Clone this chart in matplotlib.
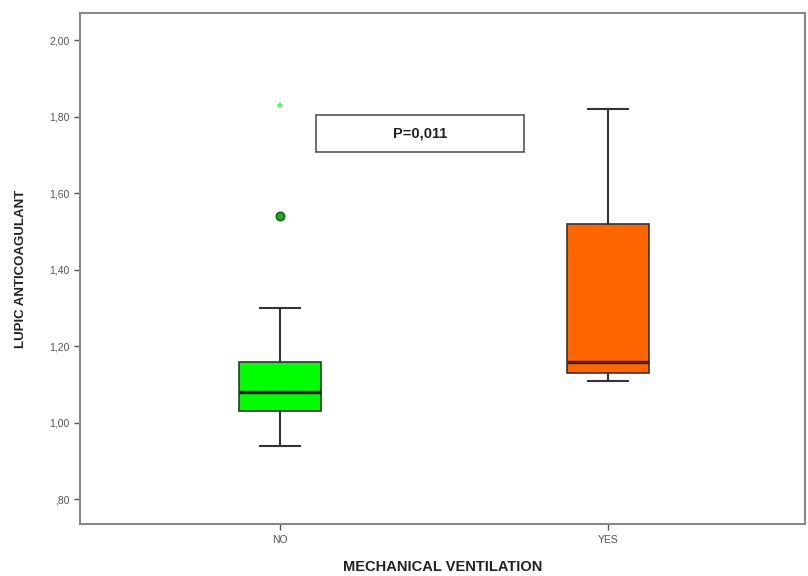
import matplotlib
matplotlib.use("Agg")
from matplotlib import pyplot as plt
from matplotlib.patches import Rectangle

plt.rcParams["font.family"] = ["Liberation Sans", "DejaVu Sans"]

# Values
categories = ["NO", "YES"]
whislo = [0.94, 1.11]
q1 = [1.03, 1.13]
median = [1.08, 1.16]
q3 = [1.16, 1.52]
whishi = [1.30, 1.82]
outliers_circle = [[1.54], []]
outliers_star = [[1.83], []]
box_colors = ["#00ff00", "#ff6600"]
yticks = [0.80, 1.00, 1.20, 1.40, 1.60, 1.80, 2.00]
p_text = "P=0,011"

fig = plt.figure(figsize=(8.08, 5.76), dpi=100)
ax = fig.add_axes([0.099, 0.090, 0.897, 0.887])

stats = []
for i, name in enumerate(categories):
    stats.append({"label": name, "whislo": whislo[i], "q1": q1[i], "med": median[i],
                  "q3": q3[i], "whishi": whishi[i], "fliers": []})

positions = list(range(1, len(categories) + 1))
bp = ax.bxp(stats, positions=positions, widths=0.25, patch_artist=True, showfliers=False,
            boxprops=dict(edgecolor="#333333", linewidth=1.2),
            whiskerprops=dict(color="#333333", linewidth=1.5),
            capprops=dict(color="#333333", linewidth=1.5),
            medianprops=dict(color="#1a1a1a", linewidth=2.5))
for patch, c in zip(bp["boxes"], box_colors):
    patch.set_facecolor(c)
bp["medians"][1].set_color("#5a1a00")
# shorter caps than the box
for cap in bp["caps"]:
    x = cap.get_xdata()
    mid = (x[0] + x[1]) / 2
    cap.set_xdata([mid - 0.06, mid + 0.06])

for i, pts in enumerate(outliers_circle):
    if pts:
        ax.plot([positions[i]] * len(pts), pts, "o", color="#22aa22", mec="#116611",
                ms=6, mew=1.2)
for i, pts in enumerate(outliers_star):
    if pts:
        ax.plot([positions[i]] * len(pts), pts, "*", color="#66ee66", ms=6, mew=0)

ax.add_patch(Rectangle((1.11, 1.707), 0.635, 0.097, facecolor="white",
                       edgecolor="#555555", linewidth=1.2, zorder=3))
ax.text(1.11 + 0.635 / 2, 1.755, p_text, ha="center", va="center", fontsize=10.5,
        fontweight="bold", color="#222222", zorder=4)

ax.set_xlim(0.39, 2.6)
ax.set_ylim(0.735, 2.07)
ax.set_yticks(yticks)
ax.set_yticklabels([("%.2f" % v).replace(".", ",").lstrip("0") for v in yticks])
ax.set_xticks(positions)
ax.set_xticklabels(categories)
ax.tick_params(labelsize=7.5, colors="#555555", length=4, width=1)
for s in ax.spines.values():
    s.set_color("#888888")
    s.set_linewidth(1.5)

ax.set_xlabel("MECHANICAL VENTILATION", fontsize=10.5, fontweight="bold", color="#222222",
              labelpad=11)
ax.set_ylabel("LUPIC ANTICOAGULANT", fontsize=9.5, fontweight="bold", color="#222222",
              labelpad=16)

fig.savefig("out.png", dpi=100)
